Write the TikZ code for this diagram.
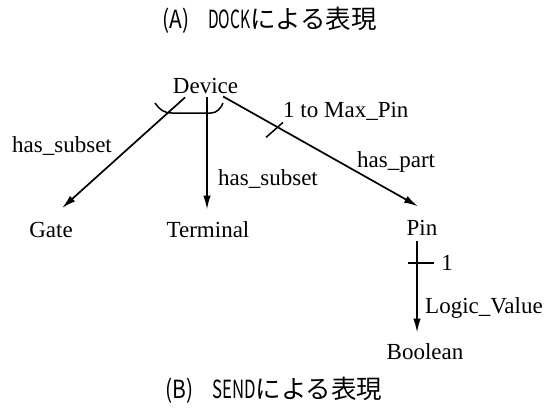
\documentclass[tikz,border=0pt]{standalone}
\usepackage{fontspec}
\usepackage{graphicx}
\setmainfont{Liberation Serif}
\newfontfamily\cjk{Noto Sans CJK JP}
\usetikzlibrary{arrows.meta,calc}
\tikzset{
  lbl/.style={inner sep=0pt,font=\fontsize{23}{26}\selectfont},
  ttl/.style={inner sep=0pt,anchor=base west},
  conn/.style={line width=1.7pt,-{Latex[length=14pt,width=7.5pt]}},
  tick/.style={line width=1.5pt},
  bracket/.style={line width=1.5pt}
}
\newcommand{\lat}[1]{{\cjk\fontsize{25}{28}\selectfont #1}}
\newcommand{\kan}[1]{{\cjk\fontsize{25.5}{28}\selectfont #1}}
\begin{document}
\begin{tikzpicture}[x=1pt,y=-1pt]
\useasboundingbox (0,0) rectangle (557,408);
% titles
\node[ttl] (ta) at (162,28) {\lat{\scalebox{0.84}[1]{(A)}}\hspace{19pt}\lat{\scalebox{0.62}[1]{DOCK}}\kan{による表現}};
\node[ttl] (tb) at (165,398) {\lat{\scalebox{0.84}[1]{(B)}}\hspace{19pt}\lat{\scalebox{0.67}[1]{SEND}}\kan{による表現}};
% nodes
\node[lbl,anchor=base] (dev) at (205.5,93) {Device};
\node[lbl,anchor=base] (gate) at (51,237) {Gate};
\node[lbl,anchor=base] (term) at (208,237) {Terminal};
\node[lbl,anchor=base] (pin) at (422,235) {Pin};
\node[lbl,anchor=base] (bool) at (425,359) {Boolean};
% connectors
\draw[conn] ([xshift=-20.5pt,yshift=-4pt]dev.south) -- ([xshift=11pt,yshift=13.5pt]gate.north);
\draw[conn] ([xshift=1.5pt,yshift=-4pt]dev.south) -- ([xshift=-1pt,yshift=11.3pt]term.north);
\draw[conn] ([xshift=17.5pt,yshift=-3pt]dev.south) -- ([xshift=-4pt,yshift=13.3pt]pin.north)
  coordinate[pos=0.282] (t1);
\draw[conn] ([xshift=-5pt,yshift=-6pt]pin.south) -- ([xshift=-8pt,yshift=10.3pt]bool.north)
  coordinate[pos=0.24] (t2);
% ticks
\draw[tick] ($(t1)+(-12,10)$) -- ($(t1)+(5,-5)$);
\draw[tick] ($(t2)+(-9,0)$) -- ($(t2)+(17,0)$);
% subset bracket
\draw[bracket] (155,103) .. controls (160,110) and (164,113) .. (172,113) -- (211,113) .. controls (217,113) and (221,108) .. (223,103);
% labels
\node[lbl,anchor=base west] (l1) at (12,152) {has\_subset};
\node[lbl,anchor=base west] (l2) at (218,185) {has\_subset};
\node[lbl,anchor=base west] (l3) at (283,117) {1 to Max\_Pin};
\node[lbl,anchor=base west] (l4) at (357,167) {has\_part};
\node[lbl,anchor=base] (l5) at (447,270) {1};
\node[lbl,anchor=base west] (l6) at (425,313) {Logic\_Value};
\end{tikzpicture}
\end{document}
